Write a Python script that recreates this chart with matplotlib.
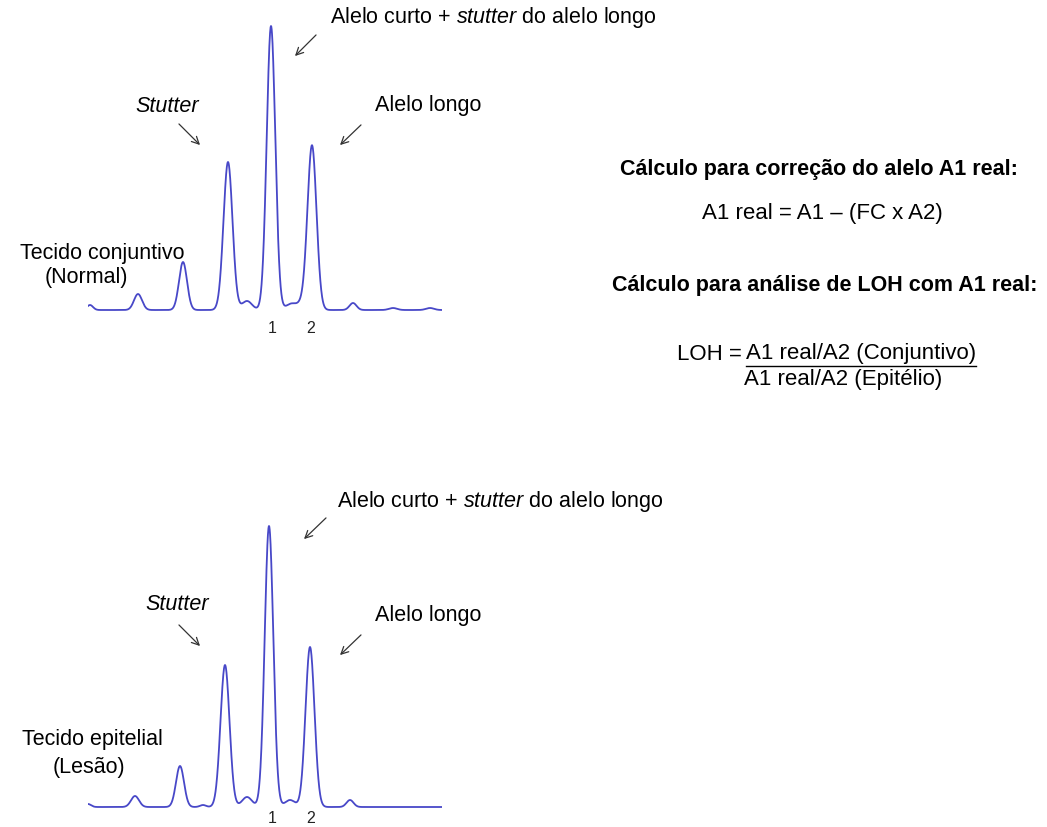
import numpy as np
import matplotlib.pyplot as plt

plt.rcParams['font.family'] = ['Liberation Sans', 'DejaVu Sans']
plt.rcParams['mathtext.fontset'] = 'custom'
plt.rcParams['mathtext.rm'] = 'Liberation Sans'
plt.rcParams['mathtext.it'] = 'Liberation Sans:italic'

# peaks of each trace: centre, height, width (same scale as the trace axis)
normal_pos = [2, 50, 95, 140, 159, 183, 203, 214, 224, 265, 305, 342]
normal_hgt = [5, 16, 48, 148, 9, 284, 6, 6, 164, 7, 2, 2]
normal_wid = [3, 4, 4, 4.5, 5, 4.3, 5, 5, 4.5, 3.5, 4, 4]

lesao_pos = [0, 47, 92, 115, 137, 159, 181, 202, 222, 262]
lesao_hgt = [3, 11, 41, 2, 142, 10, 281, 7, 160, 7]
lesao_wid = [3, 4, 4, 3, 4.5, 5, 4.3, 5, 4.5, 3.5]

allele_ticks = [184, 223]
allele_labels = ['1', '2']

W, H = 1047, 827
fig = plt.figure(figsize=(W / 100, H / 100), dpi=100)


def trace(pos, hgt, wid):
    x = np.linspace(0, 354, 2000)
    y = np.zeros_like(x)
    for p, h, w in zip(pos, hgt, wid):
        y += h * np.exp(-0.5 * ((x - p) / w) ** 2)
    return x, y


def panel(base_px, pos, hgt, wid, pad):
    ax = fig.add_axes([88 / W, (H - base_px - 5) / H, 354 / W, 300 / H])
    x, y = trace(pos, hgt, wid)
    ax.plot(x, y, color='#4848c8', lw=1.3)
    ax.set_xlim(0, 354)
    ax.set_ylim(-5, 295)
    ax.set_xticks(allele_ticks)
    ax.set_xticklabels(allele_labels, fontsize=11.5, color='#222222')
    ax.tick_params(length=0, pad=pad)
    ax.set_yticks([])
    for s in ax.spines.values():
        s.set_visible(False)
    ax.patch.set_alpha(0)
    return ax


panel(310, normal_pos, normal_hgt, normal_wid, 4)
panel(807, lesao_pos, lesao_hgt, lesao_wid, -1)

# overlay in pixel coordinates for the annotations
ov = fig.add_axes([0, 0, 1, 1])
ov.set_xlim(0, W)
ov.set_ylim(H, 0)
ov.axis('off')
ov.patch.set_alpha(0)

fs = 15.5
fr = 16
arrow = dict(arrowstyle='->', color='#333333', lw=0.9, mutation_scale=13)

# top trace: connective tissue
ov.text(330, 18, r'Alelo curto + $stutter$ do alelo longo', fontsize=fs, ha='left', va='center')
ov.text(167, 106, 'Stutter', fontsize=fs, style='italic', ha='center', va='center')
ov.text(375, 106, 'Alelo longo', fontsize=fs, ha='left', va='center')
ov.annotate('', xy=(293, 58), xytext=(318, 33), arrowprops=arrow)
ov.annotate('', xy=(202, 147), xytext=(177, 122), arrowprops=arrow)
ov.annotate('', xy=(338, 147), xytext=(363, 123), arrowprops=arrow)
ov.text(102, 253, 'Tecido conjuntivo', fontsize=fs, ha='center', va='center')
ov.text(86, 277, '(Normal)', fontsize=fs, ha='center', va='center')

# bottom trace: epithelial tissue
ov.text(337, 502, r'Alelo curto + $stutter$ do alelo longo', fontsize=fs, ha='left', va='center')
ov.text(177, 605, 'Stutter', fontsize=fs, style='italic', ha='center', va='center')
ov.text(375, 615, 'Alelo longo', fontsize=fs, ha='left', va='center')
ov.annotate('', xy=(302, 541), xytext=(328, 516), arrowprops=arrow)
ov.annotate('', xy=(202, 648), xytext=(177, 623), arrowprops=arrow)
ov.annotate('', xy=(338, 657), xytext=(363, 633), arrowprops=arrow)
ov.text(92, 740, 'Tecido epitelial', fontsize=fs, ha='center', va='center')
ov.text(89, 768, '(Lesão)', fontsize=fs, ha='center', va='center')

# formulas on the right
ov.text(819, 169, 'Cálculo para correção do alelo A1 real:', fontsize=15.5,
        fontweight='bold', ha='center', va='center')
ov.text(822, 213, 'A1 real = A1 – (FC x A2)', fontsize=fr, ha='center', va='center')
ov.text(825, 285, 'Cálculo para análise de LOH com A1 real:', fontsize=15.5,
        fontweight='bold', ha='center', va='center')
ov.text(742, 354, 'LOH =', fontsize=fr, ha='right', va='center')
ov.text(861, 354, 'A1 real/A2 (Conjuntivo)', fontsize=fr, ha='center', va='center')
ov.plot([746, 976], [366, 366], color='black', lw=1)
ov.text(843, 379, 'A1 real/A2 (Epitélio)', fontsize=fr, ha='center', va='center')

fig.savefig('out.png', dpi=100)
